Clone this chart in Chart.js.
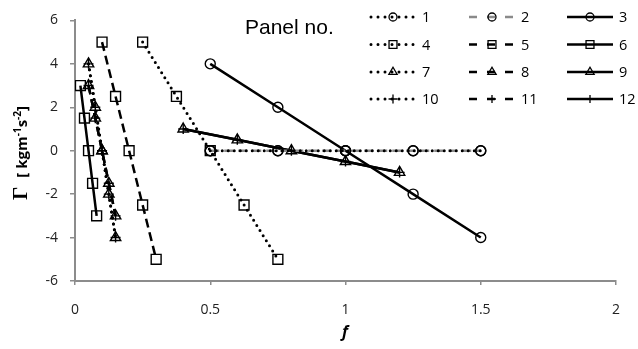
<!DOCTYPE html>
<html>
<head>
<meta charset="utf-8">
<script src="https://cdn.jsdelivr.net/npm/chart.js@4.4.1/dist/chart.umd.min.js"></script>
<style>
  body { margin: 0; background: #fff; }
  canvas { display: block; }
</style>
</head>
<body>
<canvas id="panelChart" width="638" height="349"></canvas>
<script>
// Panel numbers shown in the legend
const panelLabels = ["1", "2", "3", "4", "5", "6", "7", "8", "9", "10", "11", "12"];

// f values and Gamma values for each panel
const f1 = [0.5, 0.75, 1, 1.25, 1.5];
const gamma1 = [0, 0, 0, 0, 0];
const f2 = [0.5, 0.75, 1, 1.25, 1.5];
const gamma2 = [0, 0, 0, 0, 0];
const f3 = [0.5, 0.75, 1, 1.25, 1.5];
const gamma3 = [4, 2, 0, -2, -4];
const f4 = [0.25, 0.375, 0.5, 0.625, 0.75];
const gamma4 = [5, 2.5, 0, -2.5, -5];
const f5 = [0.1, 0.15, 0.2, 0.25, 0.3];
const gamma5 = [5, 2.5, 0, -2.5, -5];
const f6 = [0.02, 0.035, 0.05, 0.065, 0.08];
const gamma6 = [3, 1.5, 0, -1.5, -3];
const f7 = [0.05, 0.075, 0.1, 0.125, 0.15];
const gamma7 = [4, 2, 0, -2, -4];
const f8 = [0.05, 0.075, 0.1, 0.125, 0.15];
const gamma8 = [3, 1.5, 0, -1.5, -3];
const f9 = [0.4, 0.6, 0.8, 1.0, 1.2];
const gamma9 = [1, 0.5, 0, -0.5, -1];
const f10 = [0.05, 0.075, 0.1, 0.125, 0.15];
const gamma10 = [4, 2, 0, -2, -4];
const f11 = [0.05, 0.075, 0.1, 0.125, 0.15];
const gamma11 = [3, 1.5, 0, -1.5, -3];
const f12 = [0.4, 0.6, 0.8, 1.0, 1.2];
const gamma12 = [1, 0.5, 0, -0.5, -1];

// Axis ticks
const fTicks = [0, 0.5, 1, 1.5, 2];
const gammaTicks = [-6, -4, -2, 0, 2, 4, 6];

const allF = [f1, f2, f3, f4, f5, f6, f7, f8, f9, f10, f11, f12];
const allGamma = [gamma1, gamma2, gamma3, gamma4, gamma5, gamma6, gamma7, gamma8, gamma9, gamma10, gamma11, gamma12];

const axisGray = "#8c8c8c";
const markerStyles = ["circle", "rect", "triangle", "cross"];
const markerSizes = [5, 7, 6, 5];

// Build one dataset per panel (dotted / dashed / solid per column)
const datasets = panelLabels.map((label, i) => {
  const kind = i % 3;
  const row = Math.floor(i / 3);
  let ds = {
    label: label,
    data: allF[i].map((f, k) => ({ x: f, y: allGamma[i][k] })),
    showLine: true,
    borderColor: "#000",
    borderWidth: 2.5,
    borderDash: [],
    borderCapStyle: "butt",
    pointStyle: markerStyles[row],
    pointRadius: markerSizes[row],
    pointBorderWidth: 1.4,
    pointBorderColor: "#000",
    pointBackgroundColor: "rgba(0,0,0,0)",
    tension: 0,
  };
  if (kind == 0) {
    ds.borderDash = [0, 6];
    ds.borderWidth = 3;
    ds.borderCapStyle = "round";
  } else if (kind == 1) {
    ds.borderDash = [9, 5];
  }
  if (i == 1) {
    ds.borderColor = "#8a8a8a";
  }
  return ds;
});

// Draw legend, "Panel no." and the axis titles
const extrasPlugin = {
  id: "extras",
  afterDraw(chart) {
    const ctx = chart.ctx;
    ctx.save();

    ctx.fillStyle = "#000";
    ctx.font = "21px 'Liberation Sans', Arial, sans-serif";
    ctx.textBaseline = "alphabetic";
    ctx.textAlign = "left";
    ctx.fillText("Panel no.", 245, 34);

    const colX = [370, 469, 567];
    const rowY = [17, 44.5, 72, 99];
    chart.data.datasets.forEach((ds, i) => {
      const x0 = colX[i % 3];
      const y = rowY[Math.floor(i / 3)];
      ctx.save();
      ctx.strokeStyle = ds.borderColor;
      ctx.lineWidth = ds.borderWidth;
      ctx.lineCap = ds.borderCapStyle;
      if (i % 3 == 0) ctx.setLineDash([0, 7]);
      else if (i % 3 == 1) ctx.setLineDash([8, 10]);
      else ctx.setLineDash([]);
      ctx.beginPath();
      ctx.moveTo(x0 + (i % 3 == 0 ? 1 : 0), y);
      ctx.lineTo(x0 + 46, y);
      ctx.stroke();
      ctx.setLineDash([]);
      ctx.strokeStyle = "#000";
      ctx.fillStyle = "rgba(0,0,0,0)";
      ctx.lineWidth = 1.3;
      Chart.helpers.drawPoint(ctx, {
        pointStyle: ds.pointStyle,
        radius: ds.pointRadius * 0.8,
        rotation: 0,
        borderWidth: 1.3,
      }, x0 + 23, y);
      ctx.restore();
      ctx.fillStyle = "#000";
      ctx.font = "14.5px 'Open Sans', sans-serif";
      ctx.textBaseline = "middle";
      ctx.fillText(ds.label, x0 + 52, y + 1);
    });

    // y title: Γ [kgm-1s-2]
    ctx.save();
    ctx.translate(27, 200);
    ctx.rotate(-Math.PI / 2);
    ctx.textBaseline = "alphabetic";
    ctx.textAlign = "left";
    let x = 0;
    const part = (txt, font, dy) => {
      ctx.font = font;
      ctx.fillText(txt, x, dy);
      x += ctx.measureText(txt).width;
    };
    part("Γ", "bold 21px 'Liberation Serif', serif", 0);
    x += 9;
    part("[ kgm", "bold 15px 'Open Sans', sans-serif", 0);
    part("-1", "bold 10px 'Open Sans', sans-serif", -6);
    part("s", "bold 15px 'Open Sans', sans-serif", 0);
    part("-2", "bold 10px 'Open Sans', sans-serif", -6);
    part("]", "bold 15px 'Open Sans', sans-serif", 0);
    ctx.restore();

    // x title: f
    ctx.font = "italic bold 16px 'Open Sans', sans-serif";
    ctx.textAlign = "center";
    ctx.textBaseline = "middle";
    ctx.fillText("f", 345, 332);

    ctx.restore();
  },
};

new Chart(document.getElementById("panelChart"), {
  type: "scatter",
  data: { datasets: datasets },
  options: {
    responsive: false,
    animation: false,
    devicePixelRatio: 1,
    layout: { padding: { top: 19, right: 22, left: 0, bottom: 0 } },
    plugins: {
      legend: { display: false },
      tooltip: { enabled: false },
    },
    scales: {
      x: {
        type: "linear",
        min: fTicks[0],
        max: fTicks[fTicks.length - 1],
        afterBuildTicks: (scale) => {
          scale.ticks = fTicks.map((v) => ({ value: v }));
        },
        afterFit: (scale) => {
          scale.height = 68;
        },
        grid: {
          drawOnChartArea: false,
          drawTicks: true,
          tickLength: 4,
          color: axisGray,
          lineWidth: 1.5,
        },
        border: { display: true, color: axisGray, width: 2 },
        ticks: {
          padding: 17,
          color: "#222",
          font: { family: "'Open Sans', sans-serif", size: 14 },
          maxRotation: 0,
          callback: (value) => String(value),
        },
      },
      y: {
        type: "linear",
        min: gammaTicks[0],
        max: gammaTicks[gammaTicks.length - 1],
        afterBuildTicks: (scale) => {
          scale.ticks = gammaTicks.map((v) => ({ value: v }));
        },
        afterFit: (scale) => {
          scale.width = 75;
        },
        grid: {
          drawOnChartArea: false,
          drawTicks: true,
          tickLength: 5,
          color: axisGray,
          lineWidth: 1.5,
        },
        border: { display: true, color: axisGray, width: 2 },
        ticks: {
          padding: 12,
          color: "#222",
          font: { family: "'Open Sans', sans-serif", size: 14 },
          callback: (value) => String(value),
        },
      },
    },
  },
  plugins: [extrasPlugin],
});
</script>
</body>
</html>
